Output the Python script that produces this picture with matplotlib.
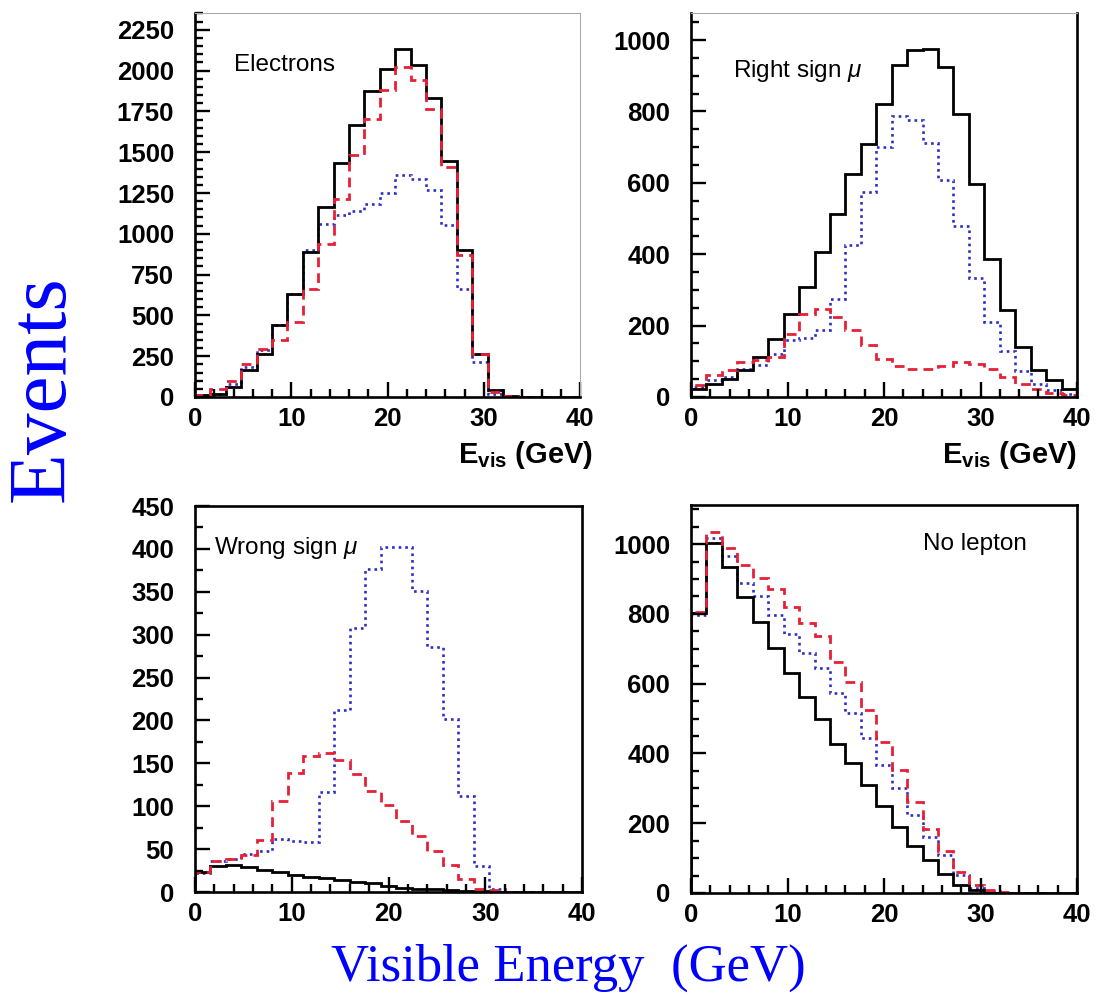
import matplotlib.pyplot as plt
import numpy as np
from matplotlib.ticker import MultipleLocator

edges = np.linspace(0, 40, 26)

# Electrons
el_black = [10, 20, 60, 163, 265, 440, 633, 888, 1164, 1434, 1664, 1875, 2011, 2134, 2032,
            1834, 1446, 898, 265, 41, 5, 2, 0, 0, 0]
el_red = [10, 50, 100, 204, 296, 347, 460, 664, 940, 1215, 1480, 1705, 1879, 2022, 1940,
          1766, 1409, 868, 265, 30, 4, 1, 0, 0, 0]
el_blue = [5, 20, 80, 184, 290, 440, 633, 898, 1062, 1113, 1140, 1180, 1250, 1358, 1338,
           1266, 1052, 664, 214, 20, 3, 1, 0, 0, 0]

# Right sign mu
rs_black = [23, 37, 51, 75, 112, 163, 233, 308, 406, 514, 626, 710, 820, 929, 971,
            976, 924, 794, 598, 388, 245, 140, 75, 47, 23]
rs_red = [33, 61, 75, 98, 103, 112, 177, 233, 247, 224, 187, 145, 107, 87, 79,
          79, 86, 98, 93, 79, 56, 37, 23, 11, 5]
rs_blue = [28, 47, 56, 79, 89, 121, 161, 166, 187, 275, 425, 574, 700, 786, 775,
           712, 607, 478, 334, 210, 129, 73, 37, 21, 9]

# Wrong sign mu
ws_black = [23, 30, 31, 29, 26, 23, 20, 18, 16, 14, 12, 10, 7, 5, 4,
            3, 2, 1, 1, 0, 0, 0, 0, 0, 0]
ws_red = [23, 36, 39, 43, 61, 106, 139, 159, 162, 154, 137, 118, 101, 83, 65,
          48, 31, 15, 4, 2, 0, 0, 0, 0, 0]
ws_blue = [22, 36, 39, 44, 48, 62, 59, 58, 116, 212, 308, 376, 402, 402, 351,
           286, 202, 112, 30, 4, 0, 0, 0, 0, 0]

# No lepton
nl_black = [803, 1004, 935, 849, 776, 702, 630, 561, 500, 426, 372, 309, 249, 190, 134,
            94, 54, 22, 8, 0, 0, 0, 0, 0, 0]
nl_red = [805, 1034, 989, 941, 903, 870, 820, 774, 736, 661, 606, 525, 434, 352, 261,
          182, 121, 60, 22, 8, 2, 0, 0, 0, 0]
nl_blue = [798, 1018, 967, 889, 852, 798, 743, 689, 644, 573, 517, 444, 367, 302, 223,
           161, 108, 51, 15, 5, 1, 0, 0, 0, 0]

labels = ['Electrons', r'Right sign $\mu$', r'Wrong sign $\mu$', 'No lepton']

RED = '#e62036'
BLUE = '#2e2ec4'

plt.rcParams['font.family'] = ['Liberation Sans', 'DejaVu Sans']
plt.rcParams['mathtext.fontset'] = 'custom'
plt.rcParams['mathtext.it'] = 'Liberation Sans:italic'
plt.rcParams['mathtext.bf'] = 'Liberation Sans:bold'

fig = plt.figure(figsize=(10.96, 10.06), dpi=100)

W, H = 1096, 1006
def frac(x0, y0, x1, y1):
    return [x0 / W, 1 - y1 / H, (x1 - x0) / W, (y1 - y0) / H]

boxes = [frac(195, 13, 580, 397), frac(691, 13, 1077, 397),
         frac(195, 506, 582, 892), frac(691, 505, 1077, 893)]
data = [(el_black, el_red, el_blue), (rs_black, rs_red, rs_blue),
        (ws_black, ws_red, ws_blue), (nl_black, nl_red, nl_blue)]
ylims = [2353, 1076, 450, 1112]
majors = [250, 200, 50, 200]
minors = [50, 50, 25, 50]
label_pos = [(0.10, 0.865), (0.11, 0.85), (0.05, 0.89), (0.60, 0.90)]
xlab_right = [1.035, 1.0]

for i in range(4):
    ax = fig.add_axes(boxes[i])
    blk, red, blu = data[i]
    ax.stairs(blu, edges, color=BLUE, lw=1.9, linestyle=(0, (1, 1.5)))
    ax.stairs(blk, edges, color='black', lw=2.0)
    ax.stairs(red, edges, color=RED, lw=2.0, linestyle=(0, (3.5, 2.2)))
    ax.set_xlim(0, 40)
    ax.set_ylim(0, ylims[i])
    ax.xaxis.set_major_locator(MultipleLocator(10))
    ax.xaxis.set_minor_locator(MultipleLocator(2))
    ax.yaxis.set_major_locator(MultipleLocator(majors[i]))
    ax.yaxis.set_minor_locator(MultipleLocator(minors[i]))
    ax.tick_params(which='both', direction='in', top=False, right=False,
                   width=1.7, labelsize=18.5)
    ax.tick_params(axis='y', pad=15)
    ax.tick_params(axis='x', pad=7)
    ax.tick_params(which='major', length=11)
    ax.tick_params(which='minor', length=6)
    for t in ax.get_xticklabels() + ax.get_yticklabels():
        t.set_fontweight('bold')
    for s in ax.spines.values():
        s.set_linewidth(1.9)
    if i < 2:
        ax.spines['top'].set_color('#aaaaaa')
        ax.spines['top'].set_linewidth(0.8)
        if i == 0:
            ax.spines['right'].set_color('#aaaaaa')
            ax.spines['right'].set_linewidth(0.8)
        ax.text(xlab_right[i], -0.15, r'E$_{\mathbf{vis}}$ (GeV)', transform=ax.transAxes,
                fontsize=21, fontweight='bold', ha='right', va='center')
    ax.text(label_pos[i][0], label_pos[i][1], labels[i], transform=ax.transAxes,
            fontsize=17.5, va='center', ha='left')

fig.text(0.040, 1 - 389 / H, 'Events', rotation=90, color='blue', fontsize=60,
         family='Liberation Serif', ha='center', va='center')
fig.text(568 / W, 1 - 968 / H, 'Visible Energy  (GeV)', color='blue', fontsize=38,
         family='Liberation Serif', ha='center', va='center')

fig.savefig('out.png', dpi=100)
